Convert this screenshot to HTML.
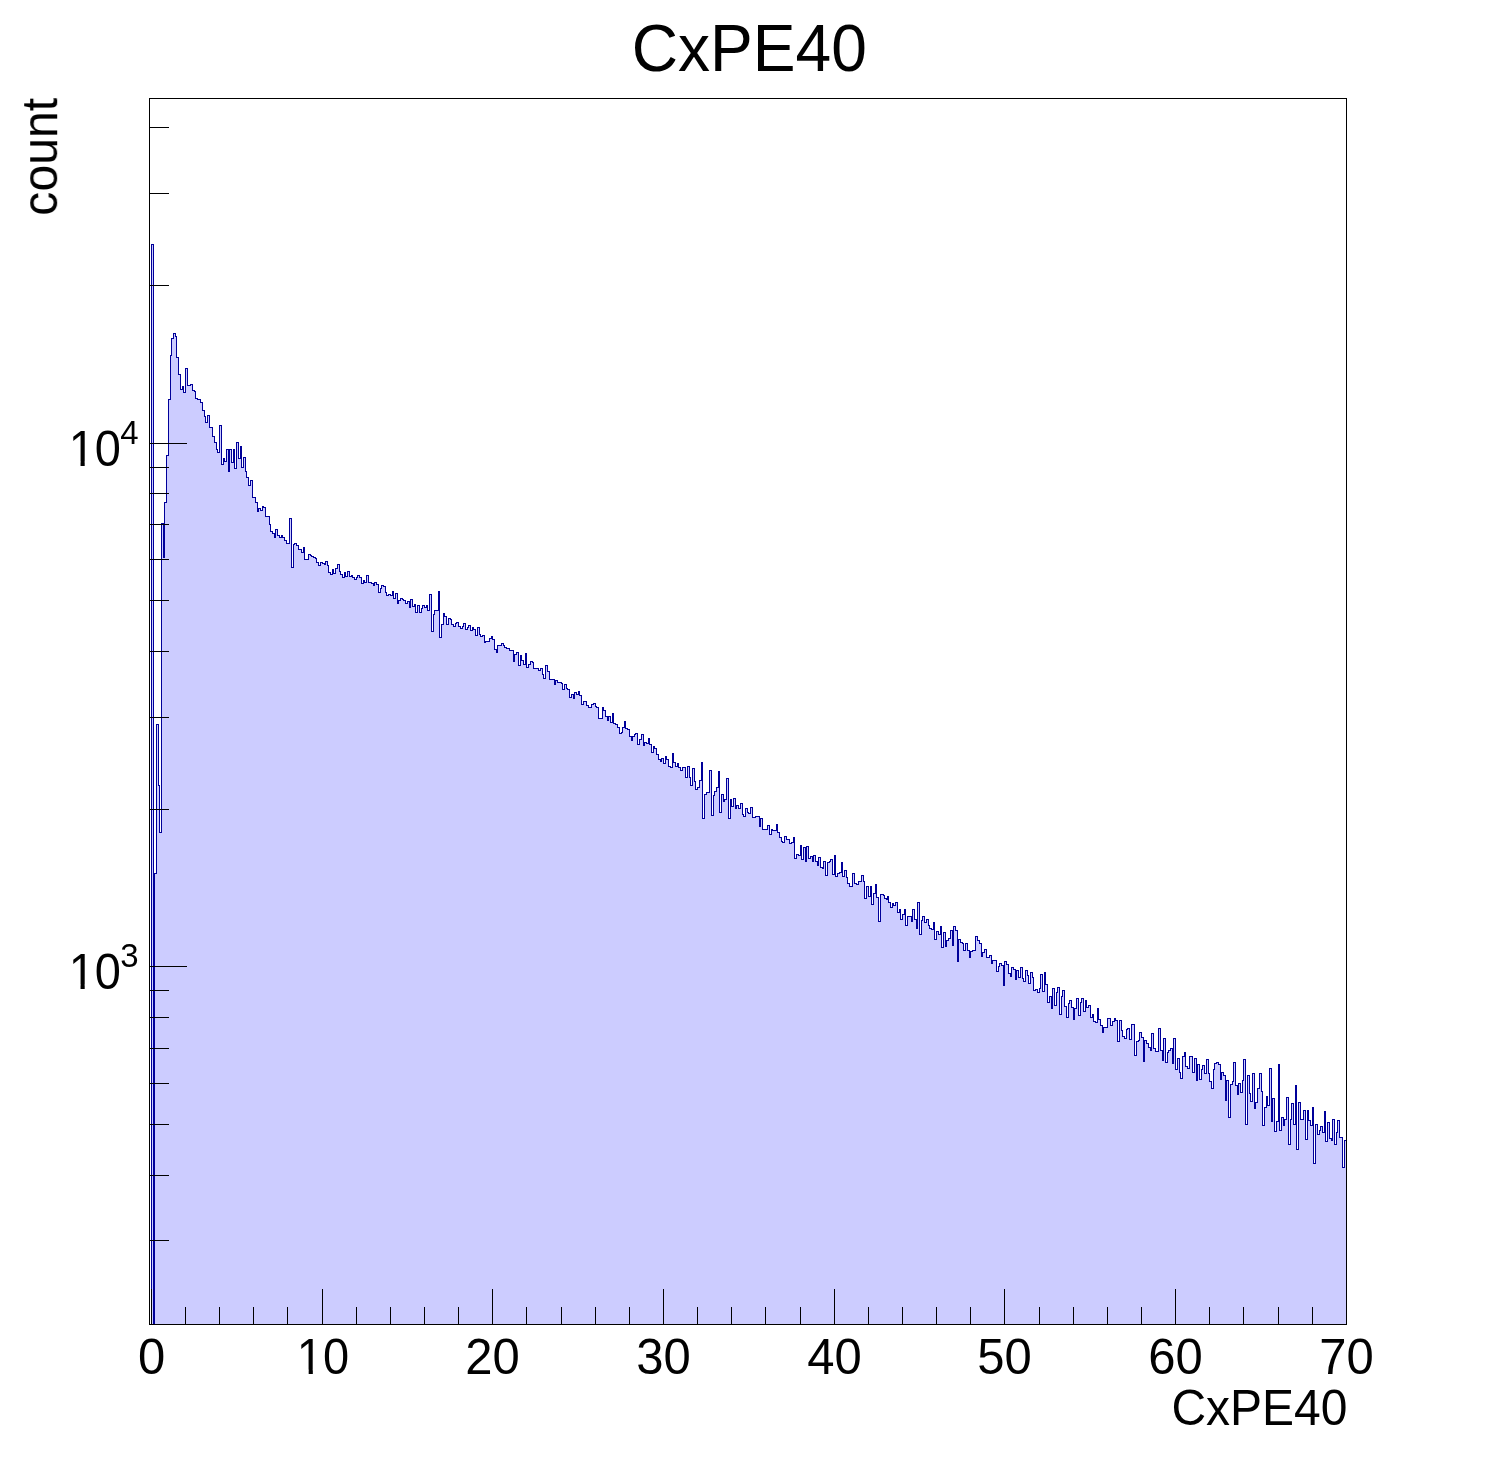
<!DOCTYPE html>
<html><head><meta charset="utf-8">
<style>
html,body{margin:0;padding:0;background:#fff;width:1496px;height:1472px;overflow:hidden}
svg{position:absolute;left:0;top:0;display:block}
text{font-family:"Liberation Sans",sans-serif;fill:#000}
</style></head><body>
<svg width="1496" height="1472" viewBox="0 0 1496 1472">
<rect x="0" y="0" width="1496" height="1472" fill="#fff"/>
<path d="M151.5,1324.5V244.5H153.5V1324.5H154.5V873.5H156.5V724.5H158.5V785.5H159.5V832.5H161.5V523.5H163.5V557.5H164.5V502.5H166.5V455.5H168.5V399.5H170.5V355.5H171.5V338.5H173.5V333.5H175.5V336.5H176.5V357.5H178.5V374.5H180.5V389.5H182.5V386.5H183.5V392.5H185.5V368.5H187.5V385.5H190.5V384.5H192.5V390.5H194.5V391.5H195.5V398.5H197.5V399.5H200.5V402.5H202.5V410.5H204.5V416.5H205.5V422.5H207.5V415.5H209.5V427.5H212.5V436.5H214.5V442.5H216.5V449.5H217.5V452.5H219.5V425.5H221.5V464.5H223.5V458.5H224.5V461.5H226.5V449.5H228.5V471.5H229.5V449.5H231.5V462.5H233.5V449.5H234.5V468.5H236.5V442.5H238.5V458.5H240.5V446.5H241.5V467.5H243.5V457.5H245.5V471.5H246.5V477.5H248.5V485.5H250.5V480.5H252.5V497.5H255.5V502.5H257.5V511.5H258.5V508.5H260.5V510.5H262.5V506.5H263.5V507.5H265.5V516.5H269.5V524.5H270.5V531.5H272.5V533.5H274.5V537.5H275.5V529.5H277.5V535.5H279.5V537.5H281.5V535.5H282.5V537.5H284.5V540.5H286.5V543.5H289.5V518.5H291.5V567.5H293.5V544.5H294.5V543.5H296.5V545.5H298.5V549.5H301.5V552.5H303.5V547.5H304.5V559.5H308.5V554.5H310.5V555.5H311.5V556.5H313.5V557.5H315.5V558.5H316.5V562.5H318.5V565.5H320.5V562.5H322.5V563.5H324.5V564.5H325.5V561.5H327.5V565.5H328.5V572.5H330.5V574.5H332.5V569.5H333.5V573.5H335.5V568.5H337.5V564.5H339.5V571.5H340.5V574.5H342.5V577.5H344.5V572.5H345.5V576.5H347.5V571.5H349.5V576.5H351.5V575.5H352.5V577.5H354.5V579.5H356.5V577.5H357.5V575.5H359.5V577.5H361.5V583.5H363.5V580.5H364.5V582.5H366.5V575.5H368.5V582.5H370.5V582.5H371.5V583.5H373.5V585.5H374.5V582.5H376.5V584.5H378.5V592.5H380.5V588.5H381.5V585.5H383.5V586.5H385.5V592.5H386.5V595.5H388.5V594.5H390.5V595.5H392.5V591.5H393.5V598.5H395.5V593.5H397.5V603.5H398.5V600.5H400.5V598.5H402.5V599.5H403.5V600.5H405.5V603.5H407.5V601.5H409.5V607.5H410.5V599.5H412.5V606.5H414.5V604.5H415.5V612.5H417.5V605.5H419.5V612.5H421.5V608.5H422.5V605.5H424.5V607.5H426.5V605.5H427.5V610.5H429.5V594.5H431.5V631.5H433.5V614.5H434.5V610.5H438.5V591.5H439.5V637.5H441.5V624.5H443.5V613.5H444.5V616.5H446.5V624.5H448.5V618.5H450.5V619.5H451.5V624.5H453.5V626.5H455.5V623.5H456.5V622.5H458.5V626.5H460.5V628.5H462.5V626.5H463.5V623.5H465.5V629.5H467.5V627.5H468.5V625.5H470.5V630.5H472.5V627.5H473.5V629.5H475.5V635.5H477.5V627.5H479.5V634.5H480.5V636.5H482.5V635.5H484.5V642.5H485.5V641.5H489.5V638.5H491.5V636.5H492.5V639.5H494.5V649.5H496.5V652.5H497.5V645.5H501.5V643.5H503.5V645.5H504.5V647.5H506.5V648.5H508.5V648.5H509.5V650.5H513.5V661.5H514.5V654.5H516.5V652.5H518.5V665.5H520.5V655.5H521.5V660.5H523.5V664.5H525.5V653.5H526.5V667.5H528.5V664.5H530.5V661.5H532.5V662.5H533.5V668.5H538.5V670.5H540.5V668.5H542.5V674.5H543.5V678.5H545.5V665.5H547.5V671.5H549.5V679.5H554.5V684.5H555.5V680.5H557.5V682.5H561.5V683.5H562.5V689.5H564.5V684.5H566.5V688.5H567.5V689.5H569.5V697.5H571.5V694.5H573.5V698.5H574.5V692.5H576.5V694.5H578.5V691.5H579.5V695.5H581.5V704.5H583.5V701.5H586.5V705.5H588.5V707.5H591.5V704.5H593.5V703.5H595.5V706.5H596.5V707.5H598.5V718.5H602.5V707.5H603.5V710.5H605.5V716.5H607.5V720.5H608.5V716.5H610.5V722.5H612.5V713.5H613.5V723.5H615.5V724.5H617.5V727.5H619.5V733.5H621.5V732.5H622.5V727.5H624.5V721.5H625.5V728.5H627.5V729.5H629.5V736.5H631.5V740.5H632.5V736.5H634.5V734.5H635.5V733.5H637.5V744.5H639.5V739.5H641.5V734.5H643.5V745.5H644.5V742.5H646.5V743.5H648.5V738.5H649.5V744.5H651.5V752.5H653.5V746.5H654.5V748.5H656.5V754.5H658.5V759.5H660.5V761.5H661.5V758.5H663.5V763.5H665.5V756.5H666.5V759.5H668.5V766.5H670.5V767.5H672.5V753.5H673.5V762.5H675.5V766.5H677.5V763.5H678.5V767.5H680.5V770.5H682.5V767.5H685.5V777.5H687.5V766.5H689.5V777.5H690.5V785.5H692.5V768.5H694.5V781.5H695.5V789.5H697.5V787.5H699.5V780.5H701.5V762.5H702.5V818.5H704.5V794.5H706.5V792.5H709.5V770.5H711.5V815.5H713.5V795.5H714.5V791.5H716.5V787.5H718.5V771.5H719.5V812.5H721.5V794.5H723.5V801.5H724.5V799.5H726.5V778.5H728.5V818.5H730.5V799.5H731.5V806.5H733.5V798.5H735.5V808.5H736.5V805.5H738.5V808.5H740.5V803.5H742.5V814.5H743.5V816.5H745.5V808.5H747.5V812.5H748.5V813.5H750.5V807.5H752.5V817.5H755.5V816.5H759.5V826.5H760.5V818.5H762.5V829.5H767.5V825.5H769.5V834.5H771.5V829.5H772.5V830.5H774.5V830.5H776.5V824.5H777.5V832.5H779.5V837.5H781.5V841.5H782.5V842.5H784.5V836.5H786.5V839.5H789.5V843.5H791.5V842.5H793.5V837.5H794.5V858.5H796.5V854.5H798.5V855.5H800.5V845.5H801.5V859.5H803.5V847.5H805.5V861.5H806.5V846.5H808.5V858.5H810.5V856.5H812.5V861.5H813.5V855.5H815.5V861.5H817.5V865.5H818.5V857.5H820.5V867.5H822.5V868.5H823.5V861.5H825.5V875.5H827.5V862.5H829.5V861.5H830.5V859.5H832.5V874.5H834.5V855.5H835.5V876.5H837.5V873.5H839.5V872.5H841.5V862.5H842.5V876.5H844.5V870.5H846.5V877.5H847.5V883.5H849.5V886.5H852.5V873.5H854.5V883.5H856.5V884.5H858.5V881.5H861.5V875.5H863.5V881.5H864.5V898.5H866.5V886.5H868.5V896.5H870.5V886.5H871.5V904.5H873.5V893.5H875.5V884.5H876.5V897.5H878.5V921.5H880.5V894.5H883.5V895.5H884.5V898.5H886.5V899.5H887.5V896.5H888.5V902.5H890.5V907.5H892.5V903.5H893.5V905.5H895.5V902.5H897.5V912.5H899.5V909.5H900.5V919.5H902.5V914.5H904.5V909.5H905.5V925.5H907.5V916.5H911.5V921.5H912.5V909.5H914.5V919.5H916.5V928.5H917.5V902.5H919.5V934.5H921.5V920.5H922.5V916.5H924.5V922.5H926.5V919.5H928.5V925.5H929.5V928.5H931.5V929.5H933.5V922.5H934.5V939.5H936.5V931.5H938.5V934.5H940.5V926.5H941.5V947.5H943.5V932.5H945.5V946.5H946.5V940.5H948.5V938.5H950.5V930.5H952.5V945.5H953.5V926.5H955.5V930.5H957.5V961.5H958.5V939.5H960.5V942.5H962.5V943.5H963.5V950.5H965.5V943.5H967.5V950.5H969.5V957.5H970.5V951.5H972.5V950.5H975.5V936.5H977.5V940.5H979.5V943.5H981.5V956.5H982.5V952.5H984.5V949.5H986.5V957.5H989.5V955.5H991.5V963.5H992.5V960.5H996.5V971.5H998.5V966.5H999.5V963.5H1001.5V965.5H1003.5V985.5H1004.5V961.5H1006.5V964.5H1008.5V973.5H1010.5V976.5H1011.5V967.5H1013.5V969.5H1015.5V979.5H1016.5V970.5H1018.5V977.5H1020.5V967.5H1022.5V978.5H1023.5V981.5H1025.5V970.5H1027.5V975.5H1028.5V983.5H1030.5V972.5H1032.5V977.5H1033.5V990.5H1035.5V989.5H1037.5V992.5H1039.5V988.5H1040.5V974.5H1042.5V991.5H1044.5V972.5H1045.5V984.5H1047.5V1002.5H1049.5V996.5H1051.5V1008.5H1052.5V988.5H1054.5V1005.5H1056.5V992.5H1057.5V987.5H1059.5V1014.5H1061.5V996.5H1062.5V990.5H1064.5V1006.5H1066.5V1017.5H1068.5V1003.5H1069.5V1000.5H1071.5V1007.5H1073.5V1019.5H1074.5V1008.5H1076.5V998.5H1078.5V1015.5H1080.5V1002.5H1081.5V998.5H1083.5V1011.5H1085.5V1000.5H1086.5V1007.5H1088.5V1005.5H1090.5V1017.5H1092.5V1014.5H1093.5V1021.5H1095.5V1022.5H1097.5V1008.5H1098.5V1019.5H1100.5V1025.5H1102.5V1032.5H1103.5V1027.5H1107.5V1018.5H1110.5V1025.5H1112.5V1021.5H1114.5V1018.5H1115.5V1020.5H1117.5V1041.5H1119.5V1020.5H1121.5V1030.5H1122.5V1036.5H1124.5V1038.5H1126.5V1029.5H1127.5V1028.5H1129.5V1039.5H1131.5V1024.5H1134.5V1055.5H1136.5V1041.5H1138.5V1040.5H1139.5V1032.5H1141.5V1037.5H1143.5V1061.5H1144.5V1040.5H1146.5V1043.5H1148.5V1047.5H1150.5V1050.5H1151.5V1033.5H1153.5V1048.5H1155.5V1051.5H1158.5V1028.5H1160.5V1050.5H1162.5V1060.5H1163.5V1038.5H1165.5V1062.5H1167.5V1052.5H1168.5V1050.5H1170.5V1048.5H1172.5V1063.5H1173.5V1038.5H1175.5V1069.5H1177.5V1058.5H1179.5V1072.5H1180.5V1078.5H1182.5V1056.5H1184.5V1052.5H1185.5V1066.5H1187.5V1068.5H1189.5V1056.5H1192.5V1072.5H1194.5V1058.5H1196.5V1080.5H1197.5V1064.5H1199.5V1079.5H1201.5V1069.5H1202.5V1065.5H1204.5V1073.5H1206.5V1059.5H1208.5V1073.5H1209.5V1081.5H1211.5V1088.5H1213.5V1069.5H1214.5V1063.5H1216.5V1062.5H1218.5V1064.5H1220.5V1079.5H1221.5V1072.5H1223.5V1075.5H1225.5V1100.5H1226.5V1080.5H1228.5V1117.5H1230.5V1084.5H1232.5V1081.5H1233.5V1062.5H1235.5V1085.5H1237.5V1094.5H1238.5V1083.5H1240.5V1092.5H1242.5V1080.5H1243.5V1059.5H1245.5V1124.5H1247.5V1075.5H1249.5V1093.5H1250.5V1101.5H1252.5V1073.5H1254.5V1108.5H1255.5V1102.5H1257.5V1088.5H1259.5V1073.5H1261.5V1091.5H1262.5V1125.5H1264.5V1107.5H1266.5V1096.5H1267.5V1105.5H1269.5V1068.5H1271.5V1121.5H1272.5V1098.5H1274.5V1131.5H1276.5V1121.5H1278.5V1064.5H1279.5V1130.5H1281.5V1117.5H1283.5V1125.5H1284.5V1119.5H1286.5V1097.5H1288.5V1144.5H1290.5V1119.5H1291.5V1103.5H1293.5V1124.5H1295.5V1085.5H1296.5V1149.5H1298.5V1102.5H1300.5V1119.5H1303.5V1110.5H1305.5V1139.5H1307.5V1110.5H1308.5V1120.5H1310.5V1125.5H1312.5V1107.5H1313.5V1163.5H1315.5V1124.5H1317.5V1134.5H1319.5V1130.5H1320.5V1126.5H1322.5V1132.5H1324.5V1111.5H1325.5V1141.5H1327.5V1122.5H1329.5V1138.5H1331.5V1140.5H1332.5V1119.5H1334.5V1144.5H1336.5V1132.5H1337.5V1120.5H1339.5V1137.5H1342.5V1167.5H1344.5V1140.5H1346.5V1324.5Z" fill="#ccccff" stroke="none" shape-rendering="crispEdges"/>
<path d="M151.5,1324.5V244.5H153.5V1324.5H154.5V873.5H156.5V724.5H158.5V785.5H159.5V832.5H161.5V523.5H163.5V557.5H164.5V502.5H166.5V455.5H168.5V399.5H170.5V355.5H171.5V338.5H173.5V333.5H175.5V336.5H176.5V357.5H178.5V374.5H180.5V389.5H182.5V386.5H183.5V392.5H185.5V368.5H187.5V385.5H190.5V384.5H192.5V390.5H194.5V391.5H195.5V398.5H197.5V399.5H200.5V402.5H202.5V410.5H204.5V416.5H205.5V422.5H207.5V415.5H209.5V427.5H212.5V436.5H214.5V442.5H216.5V449.5H217.5V452.5H219.5V425.5H221.5V464.5H223.5V458.5H224.5V461.5H226.5V449.5H228.5V471.5H229.5V449.5H231.5V462.5H233.5V449.5H234.5V468.5H236.5V442.5H238.5V458.5H240.5V446.5H241.5V467.5H243.5V457.5H245.5V471.5H246.5V477.5H248.5V485.5H250.5V480.5H252.5V497.5H255.5V502.5H257.5V511.5H258.5V508.5H260.5V510.5H262.5V506.5H263.5V507.5H265.5V516.5H269.5V524.5H270.5V531.5H272.5V533.5H274.5V537.5H275.5V529.5H277.5V535.5H279.5V537.5H281.5V535.5H282.5V537.5H284.5V540.5H286.5V543.5H289.5V518.5H291.5V567.5H293.5V544.5H294.5V543.5H296.5V545.5H298.5V549.5H301.5V552.5H303.5V547.5H304.5V559.5H308.5V554.5H310.5V555.5H311.5V556.5H313.5V557.5H315.5V558.5H316.5V562.5H318.5V565.5H320.5V562.5H322.5V563.5H324.5V564.5H325.5V561.5H327.5V565.5H328.5V572.5H330.5V574.5H332.5V569.5H333.5V573.5H335.5V568.5H337.5V564.5H339.5V571.5H340.5V574.5H342.5V577.5H344.5V572.5H345.5V576.5H347.5V571.5H349.5V576.5H351.5V575.5H352.5V577.5H354.5V579.5H356.5V577.5H357.5V575.5H359.5V577.5H361.5V583.5H363.5V580.5H364.5V582.5H366.5V575.5H368.5V582.5H370.5V582.5H371.5V583.5H373.5V585.5H374.5V582.5H376.5V584.5H378.5V592.5H380.5V588.5H381.5V585.5H383.5V586.5H385.5V592.5H386.5V595.5H388.5V594.5H390.5V595.5H392.5V591.5H393.5V598.5H395.5V593.5H397.5V603.5H398.5V600.5H400.5V598.5H402.5V599.5H403.5V600.5H405.5V603.5H407.5V601.5H409.5V607.5H410.5V599.5H412.5V606.5H414.5V604.5H415.5V612.5H417.5V605.5H419.5V612.5H421.5V608.5H422.5V605.5H424.5V607.5H426.5V605.5H427.5V610.5H429.5V594.5H431.5V631.5H433.5V614.5H434.5V610.5H438.5V591.5H439.5V637.5H441.5V624.5H443.5V613.5H444.5V616.5H446.5V624.5H448.5V618.5H450.5V619.5H451.5V624.5H453.5V626.5H455.5V623.5H456.5V622.5H458.5V626.5H460.5V628.5H462.5V626.5H463.5V623.5H465.5V629.5H467.5V627.5H468.5V625.5H470.5V630.5H472.5V627.5H473.5V629.5H475.5V635.5H477.5V627.5H479.5V634.5H480.5V636.5H482.5V635.5H484.5V642.5H485.5V641.5H489.5V638.5H491.5V636.5H492.5V639.5H494.5V649.5H496.5V652.5H497.5V645.5H501.5V643.5H503.5V645.5H504.5V647.5H506.5V648.5H508.5V648.5H509.5V650.5H513.5V661.5H514.5V654.5H516.5V652.5H518.5V665.5H520.5V655.5H521.5V660.5H523.5V664.5H525.5V653.5H526.5V667.5H528.5V664.5H530.5V661.5H532.5V662.5H533.5V668.5H538.5V670.5H540.5V668.5H542.5V674.5H543.5V678.5H545.5V665.5H547.5V671.5H549.5V679.5H554.5V684.5H555.5V680.5H557.5V682.5H561.5V683.5H562.5V689.5H564.5V684.5H566.5V688.5H567.5V689.5H569.5V697.5H571.5V694.5H573.5V698.5H574.5V692.5H576.5V694.5H578.5V691.5H579.5V695.5H581.5V704.5H583.5V701.5H586.5V705.5H588.5V707.5H591.5V704.5H593.5V703.5H595.5V706.5H596.5V707.5H598.5V718.5H602.5V707.5H603.5V710.5H605.5V716.5H607.5V720.5H608.5V716.5H610.5V722.5H612.5V713.5H613.5V723.5H615.5V724.5H617.5V727.5H619.5V733.5H621.5V732.5H622.5V727.5H624.5V721.5H625.5V728.5H627.5V729.5H629.5V736.5H631.5V740.5H632.5V736.5H634.5V734.5H635.5V733.5H637.5V744.5H639.5V739.5H641.5V734.5H643.5V745.5H644.5V742.5H646.5V743.5H648.5V738.5H649.5V744.5H651.5V752.5H653.5V746.5H654.5V748.5H656.5V754.5H658.5V759.5H660.5V761.5H661.5V758.5H663.5V763.5H665.5V756.5H666.5V759.5H668.5V766.5H670.5V767.5H672.5V753.5H673.5V762.5H675.5V766.5H677.5V763.5H678.5V767.5H680.5V770.5H682.5V767.5H685.5V777.5H687.5V766.5H689.5V777.5H690.5V785.5H692.5V768.5H694.5V781.5H695.5V789.5H697.5V787.5H699.5V780.5H701.5V762.5H702.5V818.5H704.5V794.5H706.5V792.5H709.5V770.5H711.5V815.5H713.5V795.5H714.5V791.5H716.5V787.5H718.5V771.5H719.5V812.5H721.5V794.5H723.5V801.5H724.5V799.5H726.5V778.5H728.5V818.5H730.5V799.5H731.5V806.5H733.5V798.5H735.5V808.5H736.5V805.5H738.5V808.5H740.5V803.5H742.5V814.5H743.5V816.5H745.5V808.5H747.5V812.5H748.5V813.5H750.5V807.5H752.5V817.5H755.5V816.5H759.5V826.5H760.5V818.5H762.5V829.5H767.5V825.5H769.5V834.5H771.5V829.5H772.5V830.5H774.5V830.5H776.5V824.5H777.5V832.5H779.5V837.5H781.5V841.5H782.5V842.5H784.5V836.5H786.5V839.5H789.5V843.5H791.5V842.5H793.5V837.5H794.5V858.5H796.5V854.5H798.5V855.5H800.5V845.5H801.5V859.5H803.5V847.5H805.5V861.5H806.5V846.5H808.5V858.5H810.5V856.5H812.5V861.5H813.5V855.5H815.5V861.5H817.5V865.5H818.5V857.5H820.5V867.5H822.5V868.5H823.5V861.5H825.5V875.5H827.5V862.5H829.5V861.5H830.5V859.5H832.5V874.5H834.5V855.5H835.5V876.5H837.5V873.5H839.5V872.5H841.5V862.5H842.5V876.5H844.5V870.5H846.5V877.5H847.5V883.5H849.5V886.5H852.5V873.5H854.5V883.5H856.5V884.5H858.5V881.5H861.5V875.5H863.5V881.5H864.5V898.5H866.5V886.5H868.5V896.5H870.5V886.5H871.5V904.5H873.5V893.5H875.5V884.5H876.5V897.5H878.5V921.5H880.5V894.5H883.5V895.5H884.5V898.5H886.5V899.5H887.5V896.5H888.5V902.5H890.5V907.5H892.5V903.5H893.5V905.5H895.5V902.5H897.5V912.5H899.5V909.5H900.5V919.5H902.5V914.5H904.5V909.5H905.5V925.5H907.5V916.5H911.5V921.5H912.5V909.5H914.5V919.5H916.5V928.5H917.5V902.5H919.5V934.5H921.5V920.5H922.5V916.5H924.5V922.5H926.5V919.5H928.5V925.5H929.5V928.5H931.5V929.5H933.5V922.5H934.5V939.5H936.5V931.5H938.5V934.5H940.5V926.5H941.5V947.5H943.5V932.5H945.5V946.5H946.5V940.5H948.5V938.5H950.5V930.5H952.5V945.5H953.5V926.5H955.5V930.5H957.5V961.5H958.5V939.5H960.5V942.5H962.5V943.5H963.5V950.5H965.5V943.5H967.5V950.5H969.5V957.5H970.5V951.5H972.5V950.5H975.5V936.5H977.5V940.5H979.5V943.5H981.5V956.5H982.5V952.5H984.5V949.5H986.5V957.5H989.5V955.5H991.5V963.5H992.5V960.5H996.5V971.5H998.5V966.5H999.5V963.5H1001.5V965.5H1003.5V985.5H1004.5V961.5H1006.5V964.5H1008.5V973.5H1010.5V976.5H1011.5V967.5H1013.5V969.5H1015.5V979.5H1016.5V970.5H1018.5V977.5H1020.5V967.5H1022.5V978.5H1023.5V981.5H1025.5V970.5H1027.5V975.5H1028.5V983.5H1030.5V972.5H1032.5V977.5H1033.5V990.5H1035.5V989.5H1037.5V992.5H1039.5V988.5H1040.5V974.5H1042.5V991.5H1044.5V972.5H1045.5V984.5H1047.5V1002.5H1049.5V996.5H1051.5V1008.5H1052.5V988.5H1054.5V1005.5H1056.5V992.5H1057.5V987.5H1059.5V1014.5H1061.5V996.5H1062.5V990.5H1064.5V1006.5H1066.5V1017.5H1068.5V1003.5H1069.5V1000.5H1071.5V1007.5H1073.5V1019.5H1074.5V1008.5H1076.5V998.5H1078.5V1015.5H1080.5V1002.5H1081.5V998.5H1083.5V1011.5H1085.5V1000.5H1086.5V1007.5H1088.5V1005.5H1090.5V1017.5H1092.5V1014.5H1093.5V1021.5H1095.5V1022.5H1097.5V1008.5H1098.5V1019.5H1100.5V1025.5H1102.5V1032.5H1103.5V1027.5H1107.5V1018.5H1110.5V1025.5H1112.5V1021.5H1114.5V1018.5H1115.5V1020.5H1117.5V1041.5H1119.5V1020.5H1121.5V1030.5H1122.5V1036.5H1124.5V1038.5H1126.5V1029.5H1127.5V1028.5H1129.5V1039.5H1131.5V1024.5H1134.5V1055.5H1136.5V1041.5H1138.5V1040.5H1139.5V1032.5H1141.5V1037.5H1143.5V1061.5H1144.5V1040.5H1146.5V1043.5H1148.5V1047.5H1150.5V1050.5H1151.5V1033.5H1153.5V1048.5H1155.5V1051.5H1158.5V1028.5H1160.5V1050.5H1162.5V1060.5H1163.5V1038.5H1165.5V1062.5H1167.5V1052.5H1168.5V1050.5H1170.5V1048.5H1172.5V1063.5H1173.5V1038.5H1175.5V1069.5H1177.5V1058.5H1179.5V1072.5H1180.5V1078.5H1182.5V1056.5H1184.5V1052.5H1185.5V1066.5H1187.5V1068.5H1189.5V1056.5H1192.5V1072.5H1194.5V1058.5H1196.5V1080.5H1197.5V1064.5H1199.5V1079.5H1201.5V1069.5H1202.5V1065.5H1204.5V1073.5H1206.5V1059.5H1208.5V1073.5H1209.5V1081.5H1211.5V1088.5H1213.5V1069.5H1214.5V1063.5H1216.5V1062.5H1218.5V1064.5H1220.5V1079.5H1221.5V1072.5H1223.5V1075.5H1225.5V1100.5H1226.5V1080.5H1228.5V1117.5H1230.5V1084.5H1232.5V1081.5H1233.5V1062.5H1235.5V1085.5H1237.5V1094.5H1238.5V1083.5H1240.5V1092.5H1242.5V1080.5H1243.5V1059.5H1245.5V1124.5H1247.5V1075.5H1249.5V1093.5H1250.5V1101.5H1252.5V1073.5H1254.5V1108.5H1255.5V1102.5H1257.5V1088.5H1259.5V1073.5H1261.5V1091.5H1262.5V1125.5H1264.5V1107.5H1266.5V1096.5H1267.5V1105.5H1269.5V1068.5H1271.5V1121.5H1272.5V1098.5H1274.5V1131.5H1276.5V1121.5H1278.5V1064.5H1279.5V1130.5H1281.5V1117.5H1283.5V1125.5H1284.5V1119.5H1286.5V1097.5H1288.5V1144.5H1290.5V1119.5H1291.5V1103.5H1293.5V1124.5H1295.5V1085.5H1296.5V1149.5H1298.5V1102.5H1300.5V1119.5H1303.5V1110.5H1305.5V1139.5H1307.5V1110.5H1308.5V1120.5H1310.5V1125.5H1312.5V1107.5H1313.5V1163.5H1315.5V1124.5H1317.5V1134.5H1319.5V1130.5H1320.5V1126.5H1322.5V1132.5H1324.5V1111.5H1325.5V1141.5H1327.5V1122.5H1329.5V1138.5H1331.5V1140.5H1332.5V1119.5H1334.5V1144.5H1336.5V1132.5H1337.5V1120.5H1339.5V1137.5H1342.5V1167.5H1344.5V1140.5H1346.5V1324.5" fill="none" stroke="#000099" stroke-width="1" shape-rendering="crispEdges"/>
<rect x="149.5" y="98.5" width="1197" height="1226" fill="none" stroke="#000" stroke-width="1" shape-rendering="crispEdges"/>
<path d="M151.5,1324.5V1288.5M185.5,1324.5V1306.5M219.5,1324.5V1306.5M253.5,1324.5V1306.5M287.5,1324.5V1306.5M322.5,1324.5V1288.5M356.5,1324.5V1306.5M390.5,1324.5V1306.5M424.5,1324.5V1306.5M458.5,1324.5V1306.5M492.5,1324.5V1288.5M526.5,1324.5V1306.5M561.5,1324.5V1306.5M595.5,1324.5V1306.5M629.5,1324.5V1306.5M663.5,1324.5V1288.5M697.5,1324.5V1306.5M731.5,1324.5V1306.5M765.5,1324.5V1306.5M800.5,1324.5V1306.5M834.5,1324.5V1288.5M868.5,1324.5V1306.5M902.5,1324.5V1306.5M936.5,1324.5V1306.5M970.5,1324.5V1306.5M1004.5,1324.5V1288.5M1039.5,1324.5V1306.5M1073.5,1324.5V1306.5M1107.5,1324.5V1306.5M1141.5,1324.5V1306.5M1175.5,1324.5V1288.5M1209.5,1324.5V1306.5M1243.5,1324.5V1306.5M1278.5,1324.5V1306.5M1312.5,1324.5V1306.5M1346.5,1324.5V1288.5M149.5,1240.5H168.5M149.5,1175.5H168.5M149.5,1124.5H168.5M149.5,1083.5H168.5M149.5,1048.5H168.5M149.5,1017.5H168.5M149.5,990.5H168.5M149.5,966.5H186.5M149.5,809.5H168.5M149.5,717.5H168.5M149.5,651.5H168.5M149.5,600.5H168.5M149.5,559.5H168.5M149.5,524.5H168.5M149.5,493.5H168.5M149.5,467.5H168.5M149.5,443.5H186.5M149.5,285.5H168.5M149.5,193.5H168.5M149.5,127.5H168.5" fill="none" stroke="#000" stroke-width="1" shape-rendering="crispEdges"/>
<g opacity="0.999">
<text transform="translate(749.3,71) scale(0.5000,0.5250)" font-size="128.2" text-anchor="middle">CxPE40</text>
<text transform="translate(1347.5,1425) scale(0.5000,0.5200)" font-size="96" text-anchor="end">CxPE40</text>
<text transform="translate(57,98) rotate(-90) scale(0.5000,0.5150)" font-size="96.2" text-anchor="end">count</text>
<text transform="translate(151.5,1373.7) scale(0.5000,0.5150)" font-size="98" text-anchor="middle">0</text>
<text transform="translate(323,1373.7) scale(0.5000,0.5250)" font-size="94" text-anchor="middle">10</text>
<text transform="translate(492.5,1373.7) scale(0.5000,0.5150)" font-size="98" text-anchor="middle">20</text>
<text transform="translate(663.5,1373.7) scale(0.5000,0.5150)" font-size="98" text-anchor="middle">30</text>
<text transform="translate(834.5,1373.7) scale(0.5000,0.5150)" font-size="98" text-anchor="middle">40</text>
<text transform="translate(1004.5,1373.7) scale(0.5000,0.5150)" font-size="98" text-anchor="middle">50</text>
<text transform="translate(1175.5,1373.7) scale(0.5000,0.5150)" font-size="98" text-anchor="middle">60</text>
<text transform="translate(1346.5,1373.7) scale(0.5000,0.5150)" font-size="98" text-anchor="middle">70</text>
<text transform="translate(121,988.6) scale(0.5000,0.5250)" font-size="94" text-anchor="end">10</text>
<text transform="translate(120.3,966.8) scale(0.5000,0.5150)" font-size="66" text-anchor="start">3</text>
<text transform="translate(121,465.6) scale(0.5000,0.5250)" font-size="94" text-anchor="end">10</text>
<text transform="translate(120.3,443.8) scale(0.5000,0.5150)" font-size="66" text-anchor="start">4</text>
<rect x="299.16" y="1369.72" width="9.52" height="4.58" fill="#fff"/>
<rect x="312.83" y="1369.72" width="9.50" height="4.58" fill="#fff"/>
<rect x="71.02" y="984.62" width="9.52" height="4.58" fill="#fff"/>
<rect x="84.69" y="984.62" width="9.50" height="4.58" fill="#fff"/>
<rect x="71.02" y="461.62" width="9.52" height="4.58" fill="#fff"/>
<rect x="84.69" y="461.62" width="9.50" height="4.58" fill="#fff"/>
</g>
</svg>
</body></html>
